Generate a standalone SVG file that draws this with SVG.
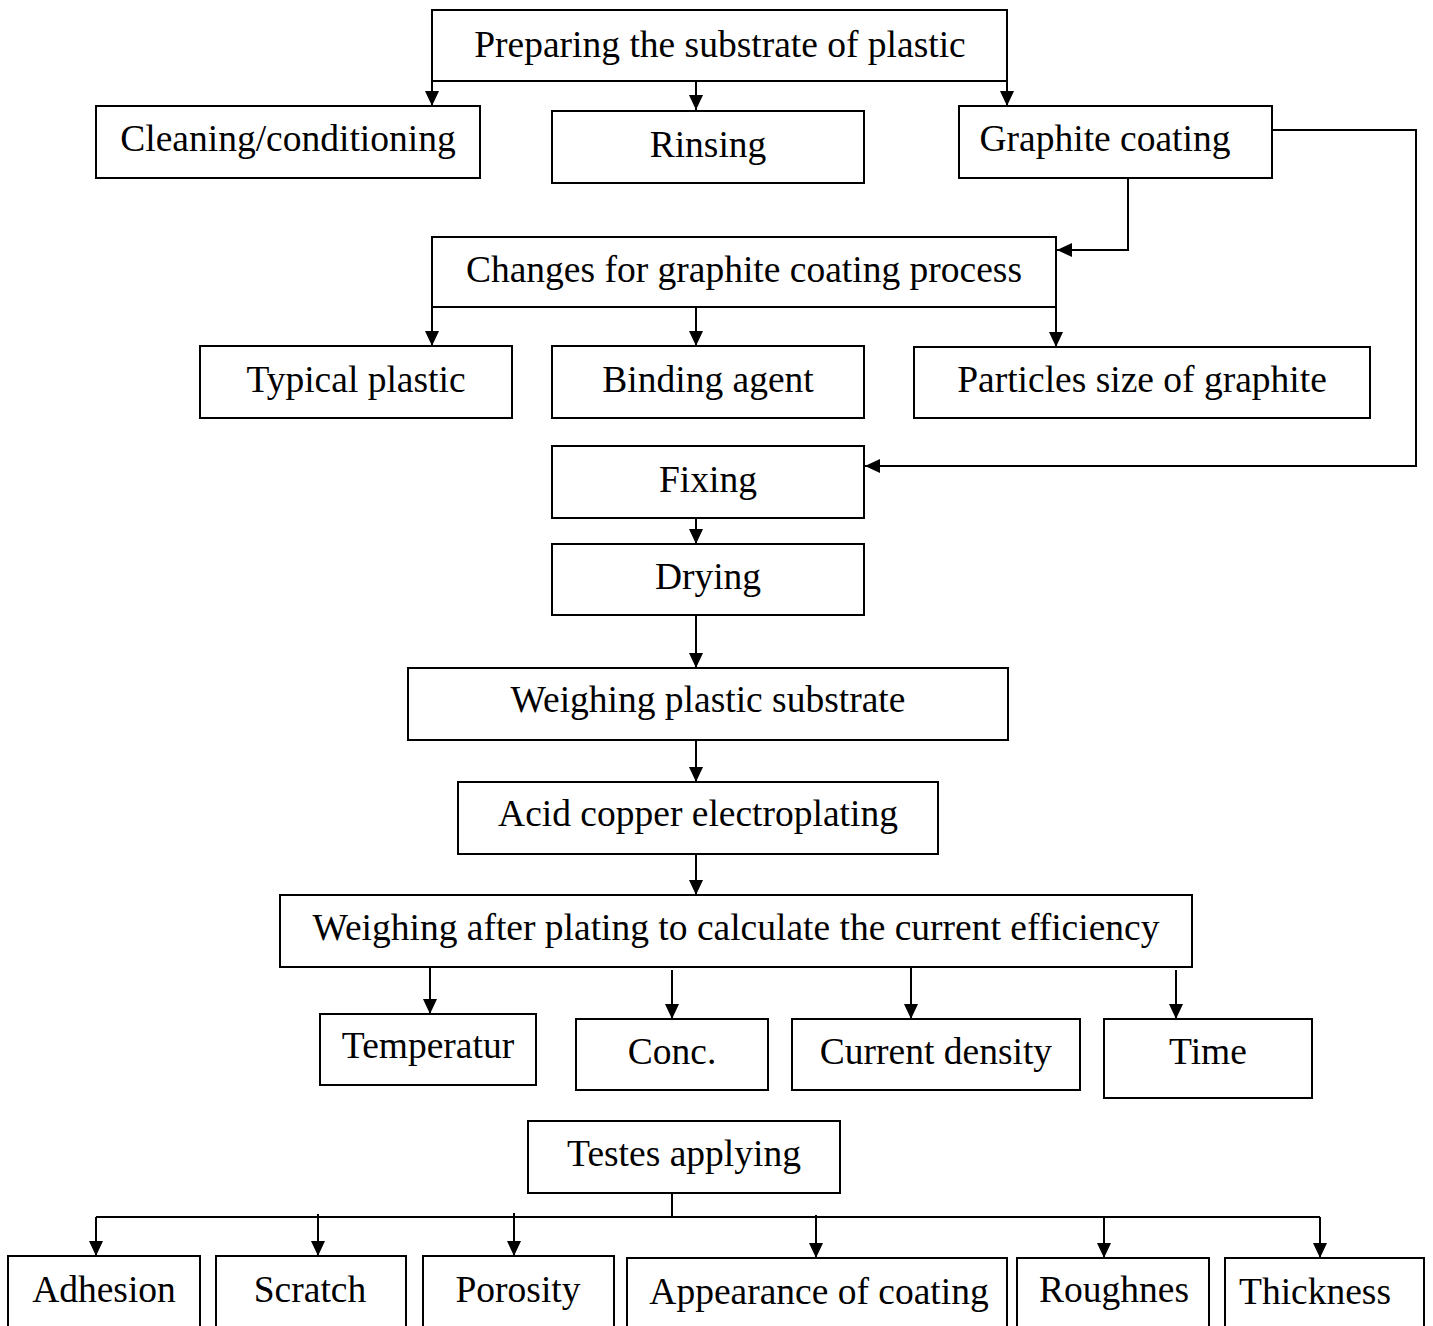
<svg xmlns="http://www.w3.org/2000/svg" width="1433" height="1326" viewBox="0 0 1433 1326">
<style>
.b{fill:#fff;stroke:#000;stroke-width:2}
.t{font-family:"Liberation Serif","Times New Roman",serif;font-size:37.5px;fill:#000;text-anchor:middle}
.c{fill:none;stroke:#000;stroke-width:2}
</style>
<defs>
<marker id="ah" viewBox="0 0 15 14" refX="15" refY="7" markerWidth="15" markerHeight="14" markerUnits="userSpaceOnUse" orient="auto">
<path d="M0,0 L15,7 L0,14 z" fill="#000"/>
</marker>
</defs>
<rect width="1433" height="1326" fill="#fff"/>
<g id="connectors">
<path class="c" d="M432,81 V106" marker-end="url(#ah)"/>
<path class="c" d="M696,81 V110" marker-end="url(#ah)"/>
<path class="c" d="M1007,81 V106" marker-end="url(#ah)"/>
<path class="c" d="M1272,130 H1416 V466 H865" marker-end="url(#ah)"/>
<path class="c" d="M1128,178 V250 H1057" marker-end="url(#ah)"/>
<path class="c" d="M432,307 V346" marker-end="url(#ah)"/>
<path class="c" d="M696,307 V346" marker-end="url(#ah)"/>
<path class="c" d="M1056,307 V347" marker-end="url(#ah)"/>
<path class="c" d="M696,518 V544" marker-end="url(#ah)"/>
<path class="c" d="M696,615 V668" marker-end="url(#ah)"/>
<path class="c" d="M696,740 V782" marker-end="url(#ah)"/>
<path class="c" d="M696,854 V895" marker-end="url(#ah)"/>
<path class="c" d="M430,967 V1014" marker-end="url(#ah)"/>
<path class="c" d="M672,970 V1019" marker-end="url(#ah)"/>
<path class="c" d="M911,967 V1019" marker-end="url(#ah)"/>
<path class="c" d="M1176,970 V1019" marker-end="url(#ah)"/>
<path class="c" d="M672,1193 V1217 M96,1217 H1320"/>
<path class="c" d="M96,1217 V1256" marker-end="url(#ah)"/>
<path class="c" d="M318,1214 V1256" marker-end="url(#ah)"/>
<path class="c" d="M514,1213 V1256" marker-end="url(#ah)"/>
<path class="c" d="M816,1215 V1258" marker-end="url(#ah)"/>
<path class="c" d="M1104,1217 V1258" marker-end="url(#ah)"/>
<path class="c" d="M1320,1217 V1258" marker-end="url(#ah)"/>
</g>
<g id="n-prep"><rect class="b" x="432" y="10" width="575" height="71"/><text class="t" x="720" y="57">Preparing the substrate of plastic</text></g>
<g id="n-clean"><rect class="b" x="96" y="106" width="384" height="72"/><text class="t" x="288" y="151">Cleaning/conditioning</text></g>
<g id="n-rinse"><rect class="b" x="552" y="111" width="312" height="72"/><text class="t" x="708" y="157">Rinsing</text></g>
<g id="n-graphite"><rect class="b" x="959" y="106" width="313" height="72"/><text class="t" x="1105" y="151">Graphite coating</text></g>
<g id="n-changes"><rect class="b" x="432" y="237" width="624" height="70"/><text class="t" x="744" y="282">Changes for graphite coating process</text></g>
<g id="n-typical"><rect class="b" x="200" y="346" width="312" height="72"/><text class="t" x="356" y="392">Typical plastic</text></g>
<g id="n-binding"><rect class="b" x="552" y="346" width="312" height="72"/><text class="t" x="708" y="392">Binding agent</text></g>
<g id="n-particles"><rect class="b" x="914" y="347" width="456" height="71"/><text class="t" x="1142" y="392">Particles size of graphite</text></g>
<g id="n-fixing"><rect class="b" x="552" y="446" width="312" height="72"/><text class="t" x="708" y="492">Fixing</text></g>
<g id="n-drying"><rect class="b" x="552" y="544" width="312" height="71"/><text class="t" x="708" y="589">Drying</text></g>
<g id="n-weigh1"><rect class="b" x="408" y="668" width="600" height="72"/><text class="t" x="708" y="712">Weighing plastic substrate</text></g>
<g id="n-acid"><rect class="b" x="458" y="782" width="480" height="72"/><text class="t" x="698" y="826">Acid copper electroplating</text></g>
<g id="n-weigh2"><rect class="b" x="280" y="895" width="912" height="72"/><text class="t" x="736" y="940">Weighing after plating to calculate the current efficiency</text></g>
<g id="n-temp"><rect class="b" x="320" y="1014" width="216" height="71"/><text class="t" x="428" y="1058">Temperatur</text></g>
<g id="n-conc"><rect class="b" x="576" y="1019" width="192" height="71"/><text class="t" x="672" y="1064">Conc.</text></g>
<g id="n-current"><rect class="b" x="792" y="1019" width="288" height="71"/><text class="t" x="936" y="1064">Current density</text></g>
<g id="n-time"><rect class="b" x="1104" y="1019" width="208" height="79"/><text class="t" x="1208" y="1064">Time</text></g>
<g id="n-testes"><rect class="b" x="528" y="1121" width="312" height="72"/><text class="t" x="684" y="1166">Testes applying</text></g>
<g id="n-adhesion"><rect class="b" x="8" y="1256" width="192" height="90"/><text class="t" x="104" y="1302">Adhesion</text></g>
<g id="n-scratch"><rect class="b" x="216" y="1256" width="190" height="90"/><text class="t" x="310" y="1302">Scratch</text></g>
<g id="n-porosity"><rect class="b" x="423" y="1256" width="191" height="90"/><text class="t" x="518" y="1302">Porosity</text></g>
<g id="n-appearance"><rect class="b" x="627" y="1258" width="380" height="90"/><text class="t" x="819" y="1304">Appearance of coating</text></g>
<g id="n-roughnes"><rect class="b" x="1017" y="1258" width="192" height="90"/><text class="t" x="1114" y="1302">Roughnes</text></g>
<g id="n-thickness"><rect class="b" x="1225" y="1258" width="199" height="90"/><text class="t" x="1315" y="1304">Thickness</text></g>
</svg>
